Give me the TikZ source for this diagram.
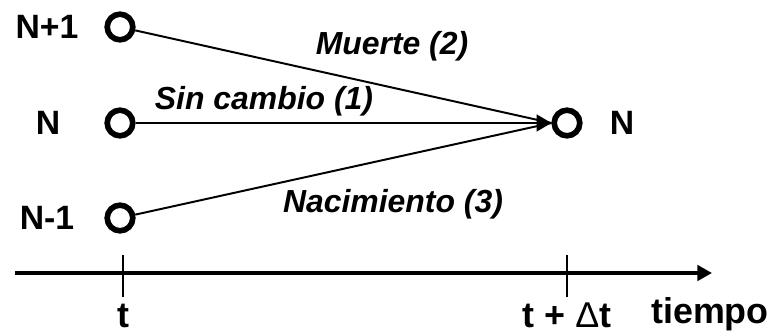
\documentclass[tikz,border=0pt]{standalone}
\usepackage{fontspec}
\setmainfont{Liberation Sans}
\usetikzlibrary{arrows.meta}
\begin{document}
\begin{tikzpicture}[
    estado/.style={circle,draw,line width=4pt,minimum size=0.64cm,inner sep=0pt},
    etiq/.style={font=\fontsize{24}{28}\selectfont\bfseries},
    trans/.style={font=\fontsize{22.7}{26}\selectfont\bfseries\itshape,anchor=base},
    eje/.style={font=\fontsize{25.5}{30}\selectfont\bfseries,anchor=base,inner sep=1pt}]
        \useasboundingbox (0,0) rectangle (19.35,8.375);
        \node[estado] (np1) at (3,7.7) {};
        \node[estado] (n0) at (3,5.3) {};
        \node[estado] (nm1) at (3,2.925) {};
        \node[estado] (nf) at (14.175,5.3) {};
        \node[etiq] (lnp1) at (1.175,7.7) {N+1};
        \node[etiq] (ln0) at (1.2,5.3) {N};
        \node[etiq] (lnm1) at (1.175,2.925) {N-1};
        \node[etiq] (lnf) at (15.55,5.3) {N};
        \draw[line width=1.4pt] (np1) -- (nf.west);
        \draw[line width=1.4pt,-{Triangle[length=10.5pt,width=12pt]}] (n0) -- (nf);
        \draw[line width=1.4pt] (nm1) -- (nf.west);
        \node[trans] (lm) at (9.8,7.0) {Muerte (2)};
        \node[trans] (ls) at (6.6,5.625) {Sin cambio (1)};
        \node[trans] (ln) at (9.825,3.05) {Nacimiento (3)};
        \coordinate (e0) at (0.375,1.55);
        \coordinate (e1) at (17.8,1.55);
        \draw[line width=2.6pt,-{Triangle[length=10.5pt,width=11pt]}] (e0) -- (e1);
        \coordinate (ta) at (3.075,2.0);
        \coordinate (tb) at (3.075,0.95);
        \coordinate (dta) at (14.175,2.0);
        \coordinate (dtb) at (14.175,0.95);
        \draw[line width=1.4pt] (ta) -- (tb);
        \draw[line width=1.4pt] (dta) -- (dtb);
        \node[eje] (lt) at (3.075,0.2) {t};
        \node[eje] (ldt) at (14.175,0.2) {t + {\mdseries Δ}t};
        \node[eje] (ltiempo) at (17.75,0.3) {tiempo};
      \end{tikzpicture}
\end{document}
